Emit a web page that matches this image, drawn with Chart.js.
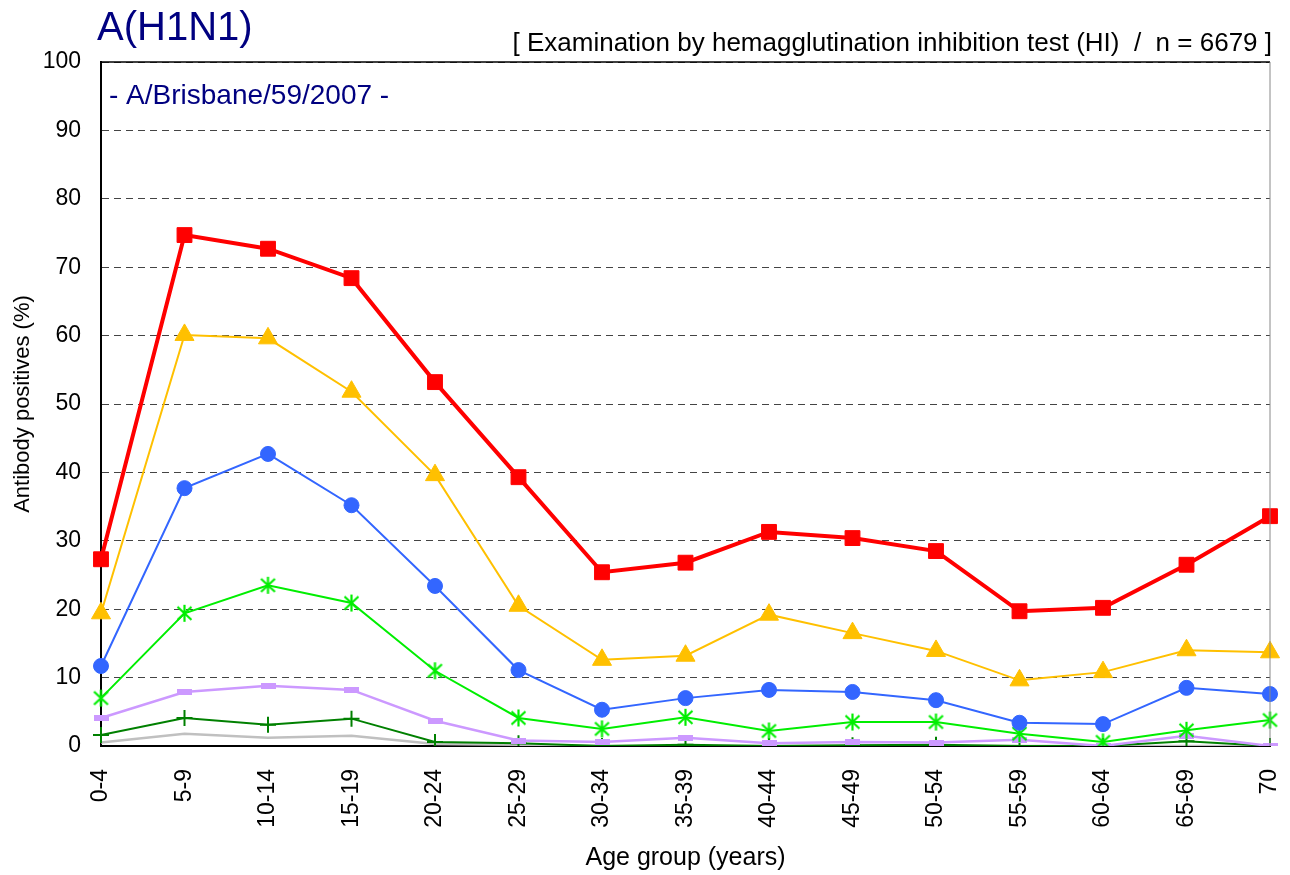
<!DOCTYPE html>
<html>
<head>
<meta charset="utf-8">
<script src="https://cdn.jsdelivr.net/npm/chart.js@4/dist/chart.umd.min.js"></script>
<style>
  html, body { margin: 0; padding: 0; background: #fff; }
  #wrap { width: 1290px; height: 875px; position: relative; }
</style>
</head>
<body>
<div id="wrap"><canvas id="chart" width="1290" height="875"></canvas></div>
<script>
const ageGroups = ["0-4","5-9","10-14","15-19","20-24","25-29","30-34","35-39","40-44","45-49","50-54","55-59","60-64","65-69","70"];

const redVals    = [27.3, 74.7, 72.7, 68.4, 53.2, 39.3, 25.4, 26.8, 31.3, 30.4, 28.5, 19.7, 20.2, 26.5, 33.6];
const yellowVals = [19.4, 60.1, 59.6, 51.8, 39.6, 20.5, 12.6, 13.2, 19.2, 16.5, 13.9, 9.6, 10.8, 14.0, 13.7];
const blueVals   = [11.7, 37.7, 42.7, 35.2, 23.4, 11.1, 5.3, 7.0, 8.2, 7.9, 6.7, 3.4, 3.2, 8.5, 7.6];
const greenVals  = [7.0, 19.4, 23.5, 20.9, 11.0, 4.1, 2.5, 4.2, 2.2, 3.5, 3.5, 1.8, 0.6, 2.3, 3.8];
const purpleVals = [4.1, 7.9, 8.8, 8.2, 3.7, 0.8, 0.6, 1.2, 0.4, 0.6, 0.5, 0.9, 0.0, 1.5, 0.0];
const dkGreenVals= [1.6, 4.1, 3.1, 4.0, 0.6, 0.4, 0.0, 0.2, 0.0, 0.1, 0.2, 0.0, 0.0, 0.7, 0.0];
const grayVals   = [0.5, 1.8, 1.2, 1.5, 0.3, 0.2, 0.0, 0.0, 0.0, 0.0, 0.0, 0.0, 0.0, 0.0, 0.0];

const yTicks = [0, 10, 20, 30, 40, 50, 60, 70, 80, 90, 100];

const FONT = "'Liberation Sans', Arial, sans-serif";

// small horizontal bar marker for the purple series
function dashMarker(color) {
  const c = document.createElement("canvas");
  c.width = 15; c.height = 6;
  const g = c.getContext("2d");
  g.fillStyle = color;
  g.fillRect(0, 0, 15, 6);
  return c;
}

// asterisk marker (vertical stroke + X) for the light green series
function asteriskMarker(color) {
  const c = document.createElement("canvas");
  c.width = 19; c.height = 19;
  const g = c.getContext("2d");
  g.strokeStyle = color;
  g.lineWidth = 2.2;
  g.beginPath();
  g.moveTo(9.5, 1); g.lineTo(9.5, 18);
  g.moveTo(2.5, 3); g.lineTo(16.5, 16);
  g.moveTo(16.5, 3); g.lineTo(2.5, 16);
  g.stroke();
  return c;
}

const frame = {
  id: "frame",
  afterDraw(chart) {
    const { ctx, chartArea: a } = chart;
    ctx.save();
    ctx.strokeStyle = "#000";
    ctx.lineWidth = 1.5;
    ctx.beginPath();
    ctx.moveTo(a.left, a.top);
    ctx.lineTo(a.right, a.top);
    ctx.stroke();
    ctx.strokeStyle = "#888";
    ctx.lineWidth = 1;
    ctx.beginPath();
    ctx.moveTo(a.right, a.top);
    ctx.lineTo(a.right, a.bottom);
    ctx.stroke();

    ctx.fillStyle = "#000080";
    ctx.textBaseline = "alphabetic";
    ctx.textAlign = "left";
    ctx.font = "40px " + FONT;
    ctx.fillText("A(H1N1)", 97, 40);
    ctx.font = "28px " + FONT;
    ctx.fillText("- A/Brisbane/59/2007 -", 109, 104);

    ctx.fillStyle = "#000";
    ctx.textAlign = "right";
    ctx.font = "26px " + FONT;
    ctx.fillText("[ Examination by hemagglutination inhibition test (HI)  /  n = 6679 ]", 1272, 51);
    ctx.restore();
  }
};

const ctx = document.getElementById("chart").getContext("2d");
new Chart(ctx, {
  type: "line",
  data: {
    labels: ageGroups,
    datasets: [
      { data: redVals, borderColor: "#ff0000", backgroundColor: "#ff0000", borderWidth: 4,
        pointStyle: "rect", pointRadius: 10.5, pointBorderWidth: 1 },
      { data: yellowVals, borderColor: "#ffc000", backgroundColor: "#ffc000", borderWidth: 2,
        pointStyle: "triangle", pointRadius: 11, pointBorderWidth: 1 },
      { data: blueVals, borderColor: "#3366ff", backgroundColor: "#3366ff", borderWidth: 2,
        pointStyle: "circle", pointRadius: 7.5, pointBorderWidth: 1 },
      { data: greenVals, borderColor: "#00ee00", backgroundColor: "#00ee00", borderWidth: 2,
        pointStyle: asteriskMarker("#00ee00"), pointRadius: 9 },
      { data: purpleVals, borderColor: "#cc99ff", backgroundColor: "#cc99ff", borderWidth: 2.5,
        pointStyle: dashMarker("#cc99ff"), pointRadius: 7 },
      { data: dkGreenVals, borderColor: "#008000", backgroundColor: "#008000", borderWidth: 2,
        pointStyle: "cross", pointRadius: 8, pointBorderWidth: 2 },
      { data: grayVals, borderColor: "#c0c0c0", borderWidth: 2.5, pointRadius: 0 }
    ]
  },
  options: {
    responsive: false,
    animation: false,
    events: [],
    layout: { padding: { top: 62, right: 20, left: 0, bottom: 2 } },
    plugins: { legend: { display: false }, tooltip: { enabled: false } },
    elements: { line: { tension: 0 } },
    scales: {
      x: {
        offset: false,
        afterFit(axis) {
          axis.height = 127;
          axis.paddingLeft = 0;
          axis.paddingRight = 0;
        },
        grid: { display: false, drawTicks: false },
        border: { display: true, color: "#000", width: 2 },
        ticks: {
          color: "#000", minRotation: 90, maxRotation: 90, autoSkip: false, padding: 23,
          font: { family: FONT, size: 23 }
        },
        title: {
          display: true, text: "Age group (years)", color: "#000", padding: { top: 12, bottom: 0 },
          font: { family: FONT, size: 25 }
        }
      },
      y: {
        min: 0, max: 100,
        afterBuildTicks(axis) { axis.ticks = yTicks.map(v => ({ value: v })); },
        afterFit(axis) { axis.width = 101; },
        grid: { color: "#444", lineWidth: 1, drawTicks: false },
        border: { display: true, color: "#000", width: 2, dash: [7, 5] },
        ticks: {
          color: "#000", padding: 20,
          font: { family: FONT, size: 23 }
        },
        title: {
          display: true, text: "Antibody positives (%)", color: "#000", padding: { top: 10, bottom: 0 },
          font: { family: FONT, size: 22 }
        }
      }
    }
  },
  plugins: [frame]
});
</script>
</body>
</html>
